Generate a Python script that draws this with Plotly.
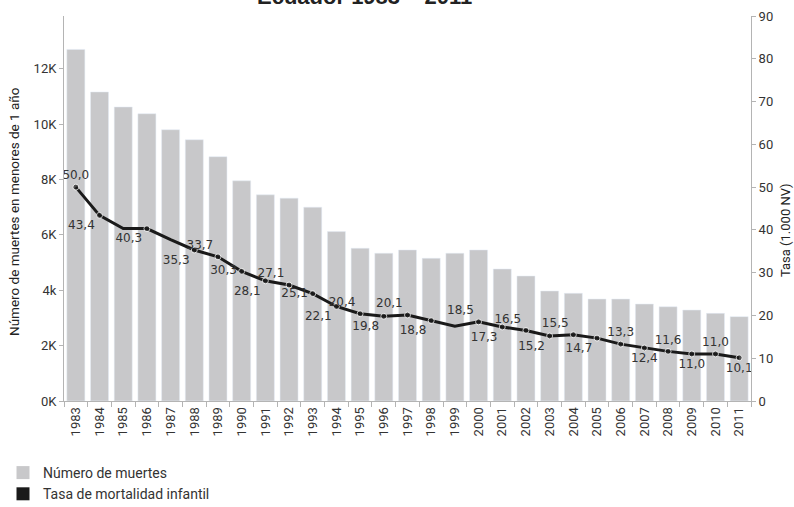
import plotly.graph_objects as go

years = ["1983", "1984", "1985", "1986", "1987", "1988", "1989", "1990", "1991", "1992",
         "1993", "1994", "1995", "1996", "1997", "1998", "1999", "2000", "2001", "2002",
         "2003", "2004", "2005", "2006", "2007", "2008", "2009", "2010", "2011"]
deaths = [12694, 11158, 10615, 10372, 9794, 9432, 8820, 7949, 7443, 7324,
          6998, 6116, 5515, 5335, 5453, 5153, 5335, 5453, 4766, 4513,
          3971, 3888, 3681, 3681, 3500, 3403, 3284, 3164, 3046]
rates = [50.0, 43.4, 40.3, 40.3, 37.7, 35.3, 33.7, 30.3, 28.1, 27.1,
         25.1, 22.1, 20.4, 19.8, 20.1, 18.8, 17.5, 18.5, 17.3, 16.5,
         15.2, 15.5, 14.7, 13.3, 12.4, 11.6, 11.0, 11.0, 10.1]
labeled = [1, 1, 0, 1, 0, 1, 1, 1, 1, 1,
           1, 1, 1, 1, 1, 1, 0, 1, 1, 1,
           1, 1, 1, 1, 1, 1, 1, 1, 1]
left_tickvals = [0, 2000, 4000, 6000, 8000, 10000, 12000]
left_ticktext = ["0K", "2K", "4k", "6K", "8K", "10K", "12K"]
right_tickvals = [0, 10, 20, 30, 40, 50, 60, 70, 80, 90]

label_pos = ["top center", "bottom left", "bottom left", "bottom left", "bottom left",
             "bottom left", "top left", "middle left", "bottom left", "top left",
             "middle left", "bottom left", "top left", "bottom left", "top left",
             "bottom left", "top left", "top left", "bottom left", "top left",
             "bottom left", "top left", "bottom left", "top center", "bottom center",
             "top center", "bottom center", "top center", "bottom center"]

COND = "Roboto, Liberation Sans Narrow, sans-serif"
TXT = "#333333"
AX = "#b4b4b4"

rate_text = [(f"{v:.1f}".replace(".", ",") if s else "") for v, s in zip(rates, labeled)]
marker_sizes = [6 if s else 0 for s in labeled]

fig = go.Figure()
fig.add_trace(go.Bar(
    x=years, y=deaths, marker_color="#c8c8ca", showlegend=False,
    name="Número de muertes", yaxis="y"))
fig.add_trace(go.Scatter(
    x=years, y=rates, yaxis="y2", mode="lines+markers+text",
    line=dict(color="#1a1a1a", width=3), marker=dict(color="#1a1a1a", size=marker_sizes),
    text=rate_text, textposition=label_pos,
    textfont=dict(family="DejaVu Sans", size=12, color=TXT),
    showlegend=False, name="Tasa de mortalidad infantil", cliponaxis=False))

# legend entries
fig.add_trace(go.Scatter(x=[years[0]], y=[None], mode="markers", name="Número de muertes",
                         marker=dict(symbol="square", size=13, color="#c8c8ca")))
fig.add_trace(go.Scatter(x=[years[0]], y=[None], mode="markers", name="Tasa de mortalidad infantil",
                         marker=dict(symbol="square", size=13, color="#1a1a1a")))

def fmt_thousands(v):
    return f"{v:,}".replace(",", ".")

fig.add_annotation(x=years[0], y=deaths[0], xref="x", yref="y", text=fmt_thousands(deaths[0]),
                   showarrow=False, xanchor="left", yanchor="bottom", xshift=-13, yshift=-2,
                   font=dict(family="Liberation Sans, Arial, sans-serif", size=15, color=TXT))
fig.add_annotation(x=years[-1], y=deaths[-1], xref="x", yref="y", text=fmt_thousands(deaths[-1]),
                   showarrow=False, xanchor="right", yanchor="bottom", xshift=9, yshift=-2,
                   font=dict(family="Liberation Sans, Arial, sans-serif", size=15, color=TXT))
# title
fig.add_annotation(x=(364 - 64) / 687, y=(401 - 11) / 385, xref="paper", yref="paper",
                   text="<b>Ecuador 1983 – 2011</b>", showarrow=False,
                   xanchor="center", yanchor="bottom",
                   font=dict(family="Liberation Sans, Arial, sans-serif", size=22, color="#222222"))
# axis titles
fig.add_annotation(x=(14 - 64) / 687, y=(401 - 212) / 385, xref="paper", yref="paper",
                   text="Número de muertes en menores de 1 año", showarrow=False, textangle=-90,
                   xanchor="center", yanchor="middle",
                   font=dict(family=COND, size=13.5, color="#222222"))
fig.add_annotation(x=(785 - 64) / 687, y=(401 - 230) / 385, xref="paper", yref="paper",
                   text="Tasa (1.000 NV)", showarrow=False, textangle=-90,
                   xanchor="center", yanchor="middle",
                   font=dict(family=COND, size=13, color="#222222"))

fig.update_layout(
    width=794, height=507,
    margin=dict(l=64, r=43, t=16, b=106, autoexpand=False),
    paper_bgcolor="white", plot_bgcolor="white",
    bargap=0.24,
    xaxis=dict(type="category", categoryorder="array", categoryarray=years,
               range=[-0.5, len(years) - 0.5],
               tickangle=-90, showline=True, linecolor=AX, ticks="outside",
               tickson="boundaries", ticklen=5, tickcolor=AX, showgrid=False,
               tickfont=dict(family=COND, size=13, color=TXT)),
    yaxis=dict(range=[0, 13900], tickvals=left_tickvals, ticktext=left_ticktext, showline=True,
               linecolor=AX, ticks="outside", ticklen=4, tickcolor=AX, showgrid=False, zeroline=False,
               tickfont=dict(family=COND, size=13, color=TXT)),
    yaxis2=dict(range=[0, 90], tickvals=right_tickvals, overlaying="y", side="right", showline=True,
                linecolor=AX, ticks="outside", ticklen=4, tickcolor=AX, showgrid=False, zeroline=False,
                tickfont=dict(family=COND, size=13, color=TXT)),
    legend=dict(x=(3 - 64) / 687, xanchor="left", y=-56/385, yanchor="top", orientation="v",
                font=dict(family=COND, size=14, color=TXT), tracegroupgap=0,
                bgcolor="rgba(0,0,0,0)"),
)

fig.write_html("out.html", config={"displayModeBar": False},
               post_script="document.body.style.margin='0';document.body.style.overflow='hidden';")
